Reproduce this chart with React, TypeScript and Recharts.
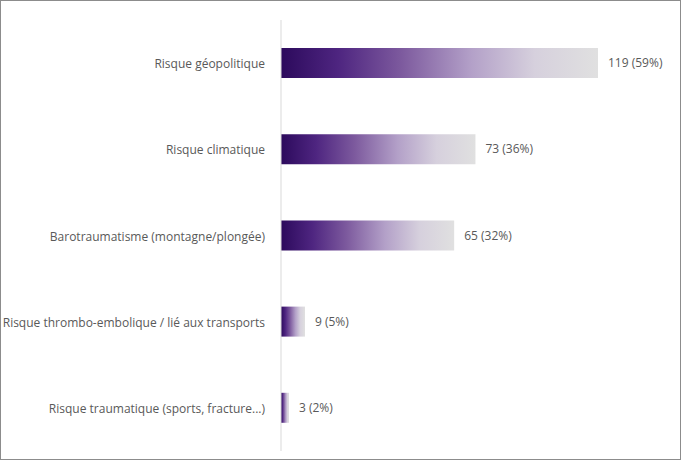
import React from 'react';
import { BarChart, Bar, XAxis, YAxis, LabelList } from 'recharts';

const categories = [
  'Risque géopolitique',
  'Risque climatique',
  'Barotraumatisme (montagne/plongée)',
  'Risque thrombo-embolique / lié aux transports',
  'Risque traumatique (sports, fracture...)',
];
const counts = [119, 73, 65, 9, 3];
const percents = [59, 36, 32, 5, 2];

const rows = categories.map((name, i) => ({ name, value: counts[i], pct: percents[i] }));

const FONT = '"Open Sans", Lato, sans-serif';

// single-line tick, recharts would wrap the long one otherwise
const CategoryTick = (props: any) => {
  const { x, y, payload } = props;
  return (
    <text x={x - 8} y={y} dy={5} textAnchor="end" fill="#595959" fontSize={12} fontFamily={FONT}>
      {payload.value}
    </text>
  );
};

const App: React.FC = () => {
  return (
    <div
      style={{
        position: 'fixed',
        top: 0,
        left: 0,
        width: 681,
        height: 460,
        boxSizing: 'border-box',
        border: '1px solid #8c8c8c',
        background: '#fff',
        fontFamily: FONT,
      }}
    >
      <div style={{ position: 'absolute', top: -1, left: -1 }}>
        <BarChart
          width={681}
          height={460}
          data={rows}
          layout="vertical"
          margin={{ top: 20, right: 83, bottom: 9, left: 0 }}
        >
          <defs>
            <linearGradient id="barFade" x1="0" y1="0" x2="1" y2="0">
              <stop offset="0%" stopColor="#2c0a5c" />
              <stop offset="18%" stopColor="#4e2580" />
              <stop offset="38%" stopColor="#7d5a9e" />
              <stop offset="60%" stopColor="#b3a0c8" />
              <stop offset="80%" stopColor="#d6d0dd" />
              <stop offset="100%" stopColor="#e0e0e0" />
            </linearGradient>
          </defs>
          <XAxis type="number" domain={[0, 'dataMax']} hide />
          <YAxis
            type="category"
            dataKey="name"
            width={281}
            tickLine={false}
            axisLine={{ stroke: '#d9d9d9' }}
            tick={<CategoryTick />}
          />
          <Bar dataKey="value" fill="url(#barFade)" barSize={30} isAnimationActive={false}>
            <LabelList
              dataKey="value"
              position="right"
              offset={10}
              fill="#595959"
              fontSize={12}
              fontFamily={FONT}
              formatter={(v: number) => {
                const i = counts.indexOf(v);
                return `${v} (${percents[i]}%)`;
              }}
            />
          </Bar>
        </BarChart>
      </div>
    </div>
  );
};

export default App;
